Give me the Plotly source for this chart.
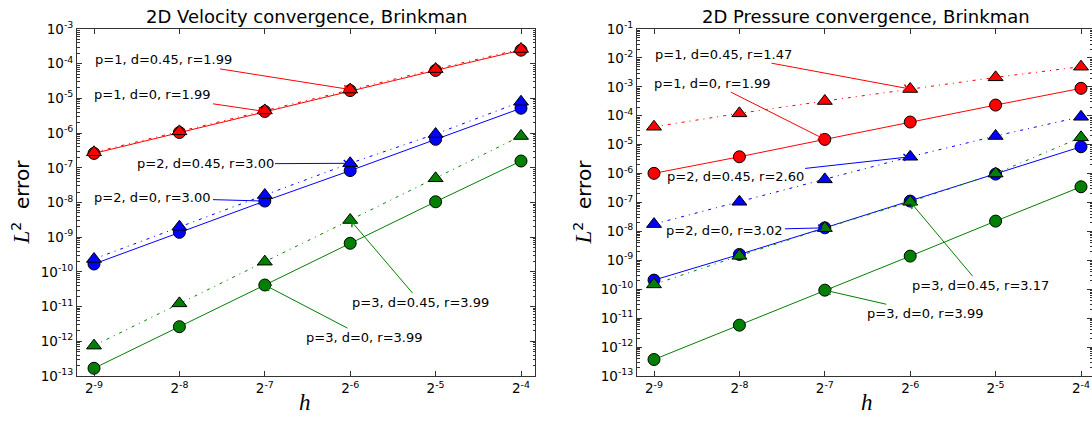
import math
import plotly.graph_objects as go

# Mesh sizes h = 2^-9 ... 2^-4
h = [2**-9, 2**-8, 2**-7, 2**-6, 2**-5, 2**-4]
h_exp = [-9, -8, -7, -6, -5, -4]

# Velocity L2 errors
vel_p1_d0 = [2.6e-7, 1.04e-6, 4.2e-6, 1.68e-5, 6.4e-5, 2.45e-4]
vel_p1_d045 = [2.8e-7, 1.12e-6, 4.5e-6, 1.8e-5, 7.0e-5, 2.65e-4]
vel_p2_d0 = [1.69e-10, 1.38e-9, 1.10e-8, 8.3e-8, 6.6e-7, 5.2e-6]
vel_p2_d045 = [2.35e-10, 2.0e-9, 1.64e-8, 1.35e-7, 9.4e-7, 8.0e-6]
vel_p3_d0 = [1.67e-13, 2.64e-12, 4.19e-11, 6.67e-10, 1.05e-8, 1.57e-7]
vel_p3_d045 = [7.5e-13, 1.24e-11, 1.97e-10, 3.13e-9, 4.98e-8, 8.24e-7]

# Pressure L2 errors
pre_p1_d0 = [1.02e-6, 3.81e-6, 1.52e-5, 6.05e-5, 2.34e-4, 8.87e-4]
pre_p1_d045 = [4.16e-5, 1.21e-4, 3.23e-4, 8.4e-4, 2.13e-3, 4.97e-3]
pre_p2_d0 = [2.07e-10, 1.6e-9, 1.33e-8, 1.12e-7, 9.6e-7, 8.45e-6]
pre_p2_d045 = [1.79e-8, 1.06e-7, 6.3e-7, 3.81e-6, 1.99e-5, 9.2e-5]
pre_p3_d0 = [3.72e-13, 5.73e-12, 9.3e-11, 1.4e-9, 2.27e-8, 3.49e-7]
pre_p3_d045 = [1.47e-10, 1.43e-9, 1.3e-8, 1.06e-7, 1.0e-6, 1.79e-5]

# Rate labels: (text, series, point index, label position as (log2 h, log10 err))
vel_labels = [
    ("p=1, d=0.45, r=1.99", vel_p1_d045, 3, (-8.19, -3.89)),
    ("p=1, d=0, r=1.99", vel_p1_d0, 2, (-8.31, -4.90)),
    ("p=2, d=0.45, r=3.00", vel_p2_d045, 3, (-7.70, -6.89)),
    ("p=2, d=0, r=3.00", vel_p2_d0, 2, (-8.31, -7.87)),
    ("p=3, d=0.45, r=3.99", vel_p3_d045, 3, (-5.18, -10.87)),
    ("p=3, d=0, r=3.99", vel_p3_d0, 2, (-5.83, -11.88)),
]
pre_labels = [
    ("p=1, d=0.45, r=1.47", pre_p1_d045, 3, (-8.19, -1.87)),
    ("p=1, d=0, r=1.99", pre_p1_d0, 2, (-8.31, -2.87)),
    ("p=2, d=0.45, r=2.60", pre_p2_d045, 3, (-8.05, -6.09)),
    ("p=2, d=0, r=3.02", pre_p2_d0, 2, (-8.17, -7.96)),
    ("p=3, d=0.45, r=3.17", pre_p3_d045, 3, (-5.18, -9.86)),
    ("p=3, d=0, r=3.99", pre_p3_d0, 2, (-5.82, -10.83)),
]

colors = {1: "#ff0000", 2: "#0000ff", 3: "#008000"}
FONT = "DejaVu Sans"
AX = "#333333"
W, H = 1092, 421
LOG2 = math.log10(2)

fig = go.Figure()


def add_series(xa, ya, p, solid, dashed):
    col = colors[p]
    fig.add_trace(go.Scatter(
        x=h, y=solid, xaxis=xa, yaxis=ya, mode="lines+markers",
        line=dict(color=col, width=1),
        marker=dict(symbol="circle", size=12, color=col,
                    line=dict(color="black", width=1)),
        showlegend=False, hoverinfo="skip"))
    fig.add_trace(go.Scatter(
        x=h, y=dashed, xaxis=xa, yaxis=ya, mode="lines+markers",
        line=dict(color=col, width=1, dash="3px,5px,1px,5px"),
        marker=dict(symbol="triangle-up", size=13, color=col,
                    line=dict(color="black", width=1)),
        showlegend=False, hoverinfo="skip"))


add_series("x", "y", 1, vel_p1_d0, vel_p1_d045)
add_series("x", "y", 2, vel_p2_d0, vel_p2_d045)
add_series("x", "y", 3, vel_p3_d0, vel_p3_d045)
add_series("x2", "y2", 1, pre_p1_d0, pre_p1_d045)
add_series("x2", "y2", 2, pre_p2_d0, pre_p2_d045)
add_series("x2", "y2", 3, pre_p3_d0, pre_p3_d045)

annotations = []


def add_labels(labels, xr, yr):
    for text, series, idx, (lh, le) in labels:
        col = colors[int(text[2])]
        annotations.append(dict(
            x=math.log10(h[idx]), y=math.log10(series[idx]),
            ax=lh * LOG2, ay=le, xref=xr, yref=yr, axref=xr, ayref=yr,
            text=text, showarrow=True, arrowhead=4, arrowsize=1.3,
            arrowwidth=1, arrowcolor=col, standoff=2,
            font=dict(family=FONT, size=13, color="black")))


add_labels(vel_labels, "x", "y")
add_labels(pre_labels, "x2", "y2")

# panel titles and axis labels
for title, cx in [("2D Velocity convergence, Brinkman", 306 / W),
                  ("2D Pressure convergence, Brinkman", 866 / W)]:
    annotations.append(dict(x=cx, y=1, xref="paper", yref="paper",
                            xanchor="center", yanchor="bottom", showarrow=False,
                            text=title, font=dict(family=FONT, size=18, color="black")))
for cx in [20 / W, 582 / W]:
    annotations.append(dict(
        x=cx, y=0.5, xref="paper", yref="paper", xanchor="center", yanchor="middle",
        showarrow=False, textangle=-90,
        text=("<span style='font-family:Liberation Serif;font-size:23px'><i>L</i></span>"
              "<sup>2</sup>  error"),
        font=dict(family=FONT, size=20, color="black")))
for cx in [305 / W, 867 / W]:
    annotations.append(dict(
        x=cx, y=(376 - 402) / 347, xref="paper", yref="paper", xanchor="center",
        yanchor="middle", showarrow=False, text="<i>h</i>",
        font=dict(family="Liberation Serif", size=23, color="black")))

xticktext = ["2<sup>%d</sup>" % e for e in h_exp]


def yticks(lo, hi):
    vals = [10.0**e for e in range(lo, hi + 1)]
    txt = ["10<sup>%d</sup>" % e for e in range(lo, hi + 1)]
    minor = [k * 10.0**e for e in range(lo, hi) for k in range(2, 10)]
    return vals, txt, minor


def xaxis_cfg(domain, rng, anchor):
    return dict(type="log", domain=domain, range=rng, anchor=anchor,
                tickmode="array", tickvals=h, ticktext=xticktext,
                ticks="inside", ticklen=5, tickcolor=AX, showline=True,
                linecolor=AX, linewidth=1, mirror="ticks", showgrid=False,
                zeroline=False, tickfont=dict(family=FONT, size=13.5, color="black"))


def yaxis_cfg(lo, hi, anchor, mirror):
    vals, txt, minor = yticks(lo, hi)
    return dict(type="log", range=[lo, hi], anchor=anchor, domain=[0, 1],
                tickmode="array", tickvals=vals, ticktext=txt,
                ticks="inside", ticklen=5, tickcolor=AX, showline=True,
                linecolor=AX, linewidth=1, mirror=mirror, showgrid=False,
                zeroline=False, tickfont=dict(family=FONT, size=13.5, color="black"),
                minor=dict(tickmode="array", tickvals=minor, ticks="inside",
                           ticklen=2.5, tickcolor=AX, showgrid=False))


xl = -9 - 17 / 85.4
fig.update_layout(
    width=W, height=H,
    margin=dict(l=0, r=0, t=29, b=45, autoexpand=False),
    paper_bgcolor="white", plot_bgcolor="white",
    xaxis=xaxis_cfg([77 / W, 535 / W], [xl * LOG2, (-4 + 14 / 85.4) * LOG2], "y"),
    yaxis=yaxis_cfg(-13, -3, "x", "ticks"),
    xaxis2=xaxis_cfg([637 / W, 1.0], [xl * LOG2, (-4 + 11 / 85.4) * LOG2], "y2"),
    yaxis2=yaxis_cfg(-13, -1, "x2", False),
    annotations=annotations,
)
# tick marks along the right edge of the pressure panel
r = yaxis_cfg(-13, -1, "x2", False)
r.update(overlaying="y2", side="right", showline=False, showticklabels=False)
fig.update_layout(yaxis3=r)
fig.add_trace(go.Scatter(x=[h[0]], y=[1e-20], xaxis="x2", yaxis="y3",
                         mode="markers", showlegend=False, hoverinfo="skip",
                         marker=dict(opacity=0)))

fig.write_html("out.html")
